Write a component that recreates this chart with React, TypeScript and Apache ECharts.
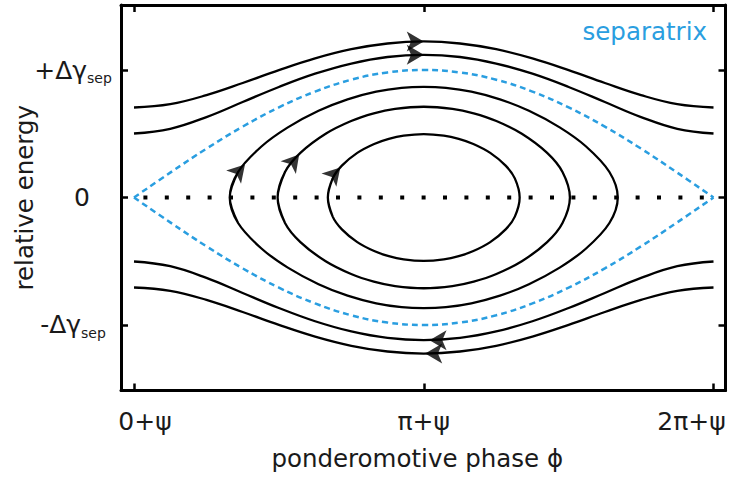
import { useEffect, useRef } from "react";
import * as echarts from "echarts";

// Phase φ in units of π, energy in units of Δγ_sep.
const phaseGrid = [0, 0.125, 0.25, 0.375, 0.5, 0.625, 0.75, 0.875, 1, 1.125, 1.25, 1.375, 1.5, 1.625, 1.75, 1.875, 2];

const separatrixUpper = [0, 0.195, 0.383, 0.556, 0.707, 0.831, 0.924, 0.981, 1, 0.981, 0.924, 0.831, 0.707, 0.556, 0.383, 0.195, 0];
const separatrixLower = [0, -0.195, -0.383, -0.556, -0.707, -0.831, -0.924, -0.981, -1, -0.981, -0.924, -0.831, -0.707, -0.556, -0.383, -0.195, 0];

// untrapped (passing) orbits
const passingUpperInner = [0.502, 0.539, 0.631, 0.749, 0.867, 0.971, 1.051, 1.102, 1.119, 1.102, 1.051, 0.971, 0.867, 0.749, 0.631, 0.539, 0.502];
const passingUpperOuter = [0.706, 0.732, 0.803, 0.898, 0.999, 1.091, 1.163, 1.208, 1.224, 1.208, 1.163, 1.091, 0.999, 0.898, 0.803, 0.732, 0.706];
const passingLowerInner = [-0.502, -0.539, -0.631, -0.749, -0.867, -0.971, -1.051, -1.102, -1.119, -1.102, -1.051, -0.971, -0.867, -0.749, -0.631, -0.539, -0.502];
const passingLowerOuter = [-0.706, -0.732, -0.803, -0.898, -0.999, -1.091, -1.163, -1.208, -1.224, -1.208, -1.163, -1.091, -0.999, -0.898, -0.803, -0.732, -0.706];

// trapped orbits: upper-left quarter, from the left turning point to the top
const trappedInnerPhase = [0.669, 0.6857, 0.7174, 0.7706, 0.8288, 0.8794, 0.9308, 1];
const trappedInnerEnergy = [0, 0.15, 0.25, 0.35, 0.42, 0.46, 0.485, 0.497];
const trappedMiddlePhase = [0.4956, 0.5211, 0.5742, 0.6615, 0.7494, 0.8276, 0.9011, 1];
const trappedMiddleEnergy = [0, 0.2, 0.35, 0.5, 0.6, 0.66, 0.695, 0.712];
const trappedOuterPhase = [0.3304, 0.3592, 0.4398, 0.5309, 0.6369, 0.737, 0.8359, 0.9236, 1];
const trappedOuterEnergy = [0, 0.2, 0.4, 0.55, 0.68, 0.77, 0.83, 0.86, 0.868];

// direction arrows: [phase, energy, rotation in degrees]
const arrowPoints: [number, number, number][] = [
  [1.0, 1.224, -90],
  [1.0, 1.119, -90],
  [1.02, -1.119, 90],
  [1.005, -1.224, 90],
  [0.383, 0.259, -42],
  [0.57, 0.337, -40],
  [0.712, 0.235, -42],
];

const phaseTicks = [0, 1, 2];
const phaseTickLabels = ["0+ψ", "π+ψ", "2π+ψ"];
const energyTicks = [-1, 0, 1];

const FONT = '"DejaVu Sans", sans-serif';
const BLUE = "#2a9ee0";
const INK = "#1a1a1a";

const zip = (xs: number[], ys: number[]) => xs.map((x, i) => [x, ys[i]]);

// Closed loop from one quarter using the symmetry about φ = π and energy = 0,
// traversed clockwise; the ends overlap so the smoothed curve closes cleanly.
function trappedLoop(ph: number[], en: number[]) {
  const n = ph.length;
  const pts: number[][] = [];
  pts.push([ph[1], -en[1]]);
  for (let i = 0; i < n; i++) pts.push([ph[i], en[i]]);
  for (let i = n - 2; i >= 0; i--) pts.push([2 - ph[i], en[i]]);
  for (let i = 1; i < n; i++) pts.push([2 - ph[i], -en[i]]);
  for (let i = n - 2; i >= 0; i--) pts.push([ph[i], -en[i]]);
  pts.push([ph[1], en[1]]);
  return pts;
}

const axisLineStyle = { show: true, onZero: false, lineStyle: { color: "#000", width: 3 } };

export default function App() {
  const ref = useRef<HTMLDivElement>(null);

  useEffect(() => {
    if (!ref.current) return;
    const chart = echarts.init(ref.current, null, { renderer: "svg" });

    const blackLine = (data: number[][], smooth: number | boolean = 0.5) => ({
      type: "line",
      data,
      smooth,
      showSymbol: false,
      symbol: "none",
      lineStyle: { color: "#000", width: 2.3 },
      z: 3,
    });

    const tickCommon = {
      show: true,
      inside: true,
      length: 7,
      lineStyle: { color: "#000", width: 2.5 },
    };

    chart.setOption({
      animation: false,
      backgroundColor: "#fff",
      grid: {
        left: 121,
        right: 3.5,
        top: 5,
        bottom: 91.5,
        containLabel: false,
        outerBoundsMode: "none",
      },
      xAxis: [
        {
          type: "value",
          position: "bottom",
          min: -0.0449,
          max: 2.0414,
          axisLine: axisLineStyle,
          axisTick: { ...tickCommon, customValues: phaseTicks },
          splitLine: { show: false },
          axisLabel: {
            customValues: phaseTicks,
            margin: 18,
            color: INK,
            fontFamily: FONT,
            fontSize: 25,
            formatter: (v: number) => {
              const i = phaseTicks.indexOf(Math.round(v));
              const key = ["a", "b", "c"][i];
              return `{${key}|${phaseTickLabels[i]}}`;
            },
            rich: {
              a: { fontFamily: FONT, fontSize: 25, color: INK, padding: [0, 0, 0, 22] },
              b: { fontFamily: FONT, fontSize: 25, color: INK },
              c: { fontFamily: FONT, fontSize: 25, color: INK, padding: [0, 44, 0, 0] },
            },
          },
          name: "ponderomotive phase ϕ",
          nameLocation: "middle",
          nameGap: 55,
          nameMoveOverlap: false,
          nameTextStyle: { fontFamily: FONT, fontSize: 24.5, color: INK, padding: [0, 12, 0, 0] },
        },
        {
          type: "value",
          position: "top",
          min: -0.0449,
          max: 2.0414,
          axisLine: axisLineStyle,
          axisTick: { ...tickCommon, customValues: phaseTicks },
          axisLabel: { show: false },
          splitLine: { show: false },
        },
      ],
      yAxis: [
        {
          type: "value",
          position: "left",
          min: -1.514,
          max: 1.51,
          axisLine: axisLineStyle,
          axisTick: { ...tickCommon, customValues: energyTicks },
          splitLine: { show: false },
          axisLabel: {
            customValues: energyTicks,
            margin: 48,
            align: "center",
            color: INK,
            formatter: (v: number) => {
              const r = Math.round(v);
              if (r === 0) return "{z|0}";
              return `{m|${r > 0 ? "+" : "-"}Δγ}{s|sep}`;
            },
            rich: {
              m: { fontFamily: FONT, fontSize: 25, color: INK },
              s: { fontFamily: FONT, fontSize: 14, color: INK, padding: [16, 0, 0, 0] },
              z: { fontFamily: FONT, fontSize: 25, color: INK, padding: [0, 0, 0, 18] },
            },
          },
          name: "relative energy",
          nameLocation: "middle",
          nameGap: 84,
          nameMoveOverlap: false,
          nameTextStyle: { fontFamily: FONT, fontSize: 24.5, color: INK },
        },
        {
          type: "value",
          position: "right",
          min: -1.514,
          max: 1.51,
          axisLine: axisLineStyle,
          axisTick: { ...tickCommon, customValues: energyTicks },
          axisLabel: { show: false },
          splitLine: { show: false },
        },
      ],
      graphic: [
        {
          type: "text",
          right: 22,
          top: 19,
          style: {
            text: "separatrix",
            fill: BLUE,
            font: `24.5px ${FONT}`,
          },
        },
      ],
      series: [
        {
          type: "line",
          data: [
            [0, 0],
            [2, 0],
          ],
          showSymbol: false,
          symbol: "none",
          lineStyle: { color: "#000", width: 4, type: [4, 17.4], dashOffset: 12.4, cap: "butt" },
          z: 2,
        },
        ...[separatrixUpper, separatrixLower].map((ys) => ({
          type: "line",
          data: zip(phaseGrid, ys),
          smooth: 0.4,
          showSymbol: false,
          symbol: "none",
          lineStyle: { color: BLUE, width: 2.5, type: [6, 4] },
          z: 2,
        })),
        blackLine(zip(phaseGrid, passingUpperInner), 0.4),
        blackLine(zip(phaseGrid, passingUpperOuter), 0.4),
        blackLine(zip(phaseGrid, passingLowerInner), 0.4),
        blackLine(zip(phaseGrid, passingLowerOuter), 0.4),
        blackLine(trappedLoop(trappedInnerPhase, trappedInnerEnergy), 0.35),
        blackLine(trappedLoop(trappedMiddlePhase, trappedMiddleEnergy), 0.35),
        blackLine(trappedLoop(trappedOuterPhase, trappedOuterEnergy), 0.35),
        {
          type: "scatter",
          symbol: "arrow",
          symbolSize: [15, 17],
          itemStyle: { color: "#000" },
          z: 5,
          data: arrowPoints.map(([x, y, rot]) => ({ value: [x, y], symbolRotate: rot })),
        },
      ],
    });

    return () => chart.dispose();
  }, []);

  return (
    <div
      ref={ref}
      style={{ position: "fixed", left: 0, top: 0, width: 729, height: 482, background: "#fff" }}
    />
  );
}
